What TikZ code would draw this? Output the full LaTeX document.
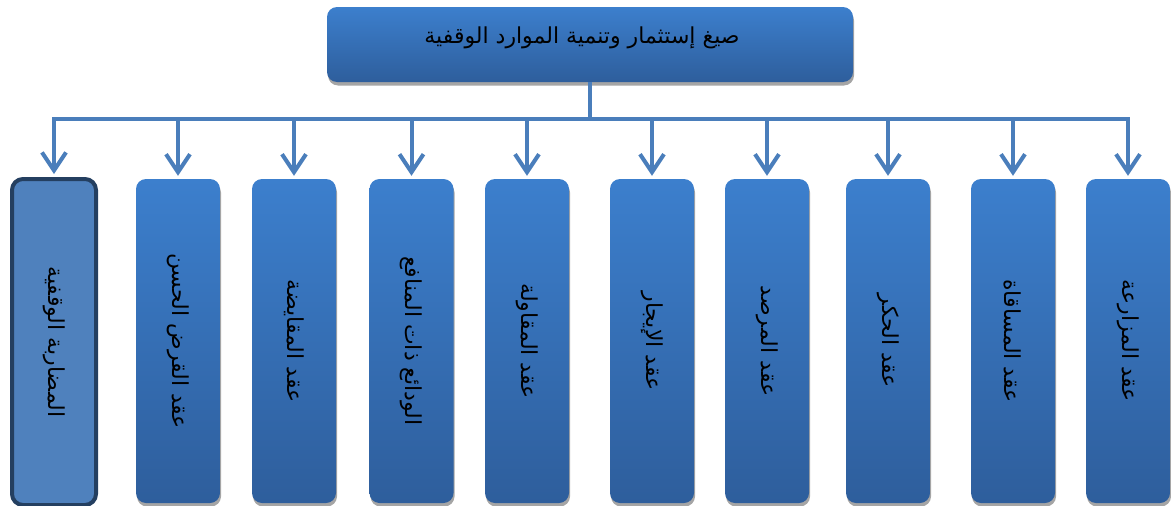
\documentclass[tikz,border=0pt]{standalone}
\usepackage{fontspec}
\newfontfamily\arabicfont[Script=Arabic]{DejaVu Sans}
\TeXXeTstate=1
\usetikzlibrary{arrows.meta,shadows}
\definecolor{boxtop}{RGB}{60,127,205}
\definecolor{boxbot}{RGB}{46,94,156}
\definecolor{connc}{RGB}{74,126,187}
\definecolor{plainfill}{RGB}{79,129,189}
\definecolor{plainedge}{RGB}{36,63,96}
\definecolor{shadowc}{RGB}{165,165,165}
\tikzset{
  gradbox/.style={rounded corners=10pt, top color=boxtop, bottom color=boxbot,
    draw=none, inner sep=0pt,
    drop shadow={shadow xshift=1pt, shadow yshift=-3.5pt, fill=shadowc, opacity=1}},
  colbox/.style={gradbox, minimum width=84pt, minimum height=324pt},
  flatbox/.style={rounded corners=11pt, fill=plainfill, draw=plainedge, line width=4pt,
    inner sep=0pt, minimum width=84pt, minimum height=326pt},
  vlabel/.style={rotate=-90, font=\arabicfont\fontsize{22}{26}\selectfont, text=black, inner sep=0pt},
  conn/.style={draw=connc, line width=4pt, line join=miter},
  barb/.tip={Straight Barb[length=18pt,width=24pt]},
  arr/.style={conn, -barb, shorten >=3pt},
}
\begin{document}
\begin{tikzpicture}[x=1pt,y=-1pt]
\useasboundingbox (0,0) rectangle (1171,506);
% top box
\node[gradbox, minimum width=526pt, minimum height=75pt] (top) at (590,44.5) {};
\node[font=\arabicfont\fontsize{22}{26}\selectfont, inner sep=0pt] (title) at (582,38) {\beginR صيغ إستثمار وتنمية الموارد الوقفية\endR};
% column boxes
\node[flatbox] (b1) at (54,342) {};
\node[colbox] (b2) at (178,341) {};
\node[colbox] (b3) at (294,341) {};
\node[colbox] (b4) at (411.5,341) {};
\node[colbox] (b5) at (527,341) {};
\node[colbox] (b6) at (652,341) {};
\node[colbox] (b7) at (767,341) {};
\node[colbox] (b8) at (888,341) {};
\node[colbox] (b9) at (1013,341) {};
\node[colbox] (b10) at (1128,341) {};
% labels
\node[vlabel] (t1) at (b1) {\beginR المضاربة الوقفية\endR};
\node[vlabel] (t2) at (b2) {\beginR عقد القرض الحسن\endR};
\node[vlabel] (t3) at (b3) {\beginR عقد المقايضة\endR};
\node[vlabel] (t4) at (b4) {\beginR الودائع ذات المنافع\endR};
\node[vlabel] (t5) at (b5) {\beginR عقد المقاولة\endR};
\node[vlabel] (t6) at (b6) {\beginR عقد الإيجار\endR};
\node[vlabel] (t7) at (b7) {\beginR عقد المرصد\endR};
\node[vlabel] (t8) at (b8) {\beginR عقد الحكر\endR};
\node[vlabel] (t9) at (b9) {\beginR عقد المساقاة\endR};
\node[vlabel] (t10) at (b10) {\beginR عقد المزارعة\endR};
% connectors
\coordinate (bar) at (0,119);
\draw[conn] (top.south) -- (top.south |- bar);
\draw[conn, barb-barb, shorten <=3pt, shorten >=3pt]
  (b1.north) -- (b1.north |- bar) -- (b10.north |- bar) -- (b10.north);
\foreach \k in {2,...,9} {
  \draw[arr] (b\k.north |- bar) -- (b\k.north);
}
\end{tikzpicture}
\end{document}
